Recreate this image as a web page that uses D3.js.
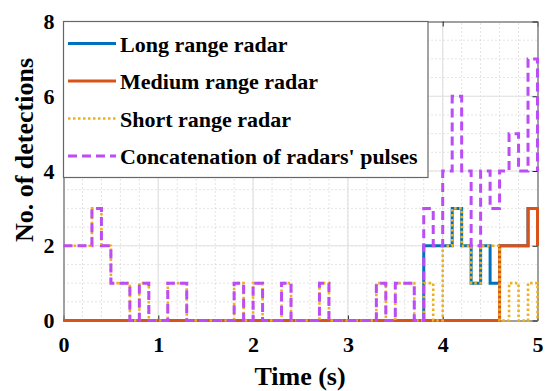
<!DOCTYPE html>
<html>
<head>
<meta charset="utf-8">
<script src="https://cdn.jsdelivr.net/npm/d3@7"></script>
<style>
  body { margin: 0; background: #fff; }
</style>
</head>
<body>
<script>
// sample times (s), one value per 0.1 s, drawn as stairs
const time = [0.0, 0.1, 0.2, 0.3, 0.4, 0.5, 0.6, 0.7, 0.8, 0.9,
              1.0, 1.1, 1.2, 1.3, 1.4, 1.5, 1.6, 1.7, 1.8, 1.9,
              2.0, 2.1, 2.2, 2.3, 2.4, 2.5, 2.6, 2.7, 2.8, 2.9,
              3.0, 3.1, 3.2, 3.3, 3.4, 3.5, 3.6, 3.7, 3.8, 3.9,
              4.0, 4.1, 4.2, 4.3, 4.4, 4.5, 4.6, 4.7, 4.8, 4.9, 5.0];

const longRange = [0, 0, 0, 0, 0, 0, 0, 0, 0, 0,
                   0, 0, 0, 0, 0, 0, 0, 0, 0, 0,
                   0, 0, 0, 0, 0, 0, 0, 0, 0, 0,
                   0, 0, 0, 0, 0, 0, 0, 0, 2, 2,
                   2, 3, 2, 1, 2, 1, 2, 2, 2, 3, 2];

const mediumRange = [0, 0, 0, 0, 0, 0, 0, 0, 0, 0,
                     0, 0, 0, 0, 0, 0, 0, 0, 0, 0,
                     0, 0, 0, 0, 0, 0, 0, 0, 0, 0,
                     0, 0, 0, 0, 0, 0, 0, 0, 0, 0,
                     0, 0, 0, 0, 0, 0, 2, 2, 2, 3, 2];

const shortRange = [2, 2, 2, 3, 2, 1, 1, 0, 1, 0,
                    0, 1, 1, 0, 0, 0, 0, 0, 1, 0,
                    1, 0, 0, 1, 0, 0, 0, 1, 0, 0,
                    0, 0, 0, 1, 0, 1, 1, 0, 1, 0,
                    2, 3, 2, 1, 2, 2, 0, 1, 0, 1, 0];

const concatenated = [2, 2, 2, 3, 2, 1, 1, 0, 1, 0,
                      0, 1, 1, 0, 0, 0, 0, 0, 1, 0,
                      1, 0, 0, 1, 0, 0, 0, 1, 0, 0,
                      0, 0, 0, 1, 0, 1, 1, 0, 3, 2,
                      4, 6, 4, 2, 4, 3, 4, 5, 4, 7, 4];

const seriesNames = ["Long range radar", "Medium range radar",
                     "Short range radar", "Concatenation of radars' pulses"];
const xTicks = [0, 1, 2, 3, 4, 5];
const yTicks = [0, 2, 4, 6, 8];

const series = [
  { name: seriesNames[0], values: longRange,    color: "#0072bd", dash: null,      width: 3 },
  { name: seriesNames[1], values: mediumRange,  color: "#d95319", dash: null,      width: 3 },
  { name: seriesNames[2], values: shortRange,   color: "#edb120", dash: "2.5,2.5", width: 2.6 },
  { name: seriesNames[3], values: concatenated, color: "#bb4cf6", dash: "9,5",     width: 3 }
];

const font = "'Liberation Serif', 'Times New Roman', serif";

const svg = d3.select("body").append("svg")
  .attr("width", 546)
  .attr("height", 391);

const x = d3.scaleLinear().domain([0, 5]).range([63.5, 537.5]);
const y = d3.scaleLinear().domain([0, 8]).range([320.5, 21.5]);

// grid: dotted minor, solid major
const grid = svg.append("g");
grid.selectAll(".minor-x").data(d3.range(0.2, 5, 0.2))
  .enter().append("line")
  .attr("x1", d => x(d)).attr("x2", d => x(d))
  .attr("y1", y(0)).attr("y2", y(8))
  .attr("stroke", "#c8c8c8").attr("stroke-dasharray", "1,3");
grid.selectAll(".minor-y").data(d3.range(0.5, 8, 0.5))
  .enter().append("line")
  .attr("y1", d => y(d)).attr("y2", d => y(d))
  .attr("x1", x(0)).attr("x2", x(5))
  .attr("stroke", "#c8c8c8").attr("stroke-dasharray", "1,3");
grid.selectAll(".major-x").data(xTicks.slice(1, -1))
  .enter().append("line")
  .attr("x1", d => x(d)).attr("x2", d => x(d))
  .attr("y1", y(0)).attr("y2", y(8))
  .attr("stroke", "#e2e2e2").attr("stroke-width", 1.2);
grid.selectAll(".major-y").data(yTicks.slice(1, -1))
  .enter().append("line")
  .attr("y1", d => y(d)).attr("y2", d => y(d))
  .attr("x1", x(0)).attr("x2", x(5))
  .attr("stroke", "#e2e2e2").attr("stroke-width", 1.2);

// box + inward ticks
function styleAxis(g) {
  g.select(".domain").attr("stroke", "#808080").attr("stroke-width", 1.5);
  g.selectAll(".tick line").attr("stroke", "#222");
  g.selectAll("text")
    .attr("font-family", font)
    .attr("font-weight", "bold")
    .attr("font-size", 22)
    .attr("fill", "#000");
}

svg.append("g").attr("transform", `translate(0, ${y(0)})`)
  .call(d3.axisBottom(x).tickValues(xTicks).tickFormat(d3.format("d"))
    .tickSizeInner(-5).tickSizeOuter(0).tickPadding(16))
  .call(styleAxis);
svg.append("g").attr("transform", `translate(0, ${y(8)})`)
  .call(d3.axisTop(x).tickValues(xTicks).tickFormat("")
    .tickSizeInner(-5).tickSizeOuter(0))
  .call(styleAxis);
svg.append("g").attr("transform", `translate(${x(0)}, 0)`)
  .call(d3.axisLeft(y).tickValues(yTicks).tickFormat(d3.format("d"))
    .tickSizeInner(-5).tickSizeOuter(0).tickPadding(9))
  .call(styleAxis);
svg.append("g").attr("transform", `translate(${x(5)}, 0)`)
  .call(d3.axisRight(y).tickValues(yTicks).tickFormat("")
    .tickSizeInner(-5).tickSizeOuter(0))
  .call(styleAxis);

// step lines
const line = d3.line()
  .x((d, i) => x(time[i]))
  .y(d => y(d))
  .curve(d3.curveStepAfter);

svg.selectAll(".series").data(series)
  .enter().append("path")
  .attr("class", "series")
  .attr("d", d => line(d.values))
  .attr("fill", "none")
  .attr("stroke", d => d.color)
  .attr("stroke-width", d => d.width)
  .attr("stroke-dasharray", d => d.dash);

// legend
const legend = svg.append("g");
legend.append("rect")
  .attr("x", x(0)).attr("y", y(8))
  .attr("width", 428 - x(0)).attr("height", 177.5 - y(8))
  .attr("fill", "#fff")
  .attr("stroke", "#666").attr("stroke-width", 1.2);

const item = legend.selectAll(".item").data(series)
  .enter().append("g")
  .attr("transform", (d, i) => `translate(0, ${43.5 + i * 37.5})`);
item.append("line")
  .attr("x1", 68).attr("x2", 116)
  .attr("stroke", d => d.color)
  .attr("stroke-width", d => d.width)
  .attr("stroke-dasharray", d => d.dash);
item.append("text")
  .attr("x", 120).attr("y", 8)
  .attr("font-family", font)
  .attr("font-weight", "bold")
  .attr("font-size", 22)
  .text(d => d.name);

// axis titles
svg.append("text")
  .attr("x", 300).attr("y", 385)
  .attr("text-anchor", "middle")
  .attr("font-family", font).attr("font-weight", "bold").attr("font-size", 26)
  .text("Time (s)");
svg.append("text")
  .attr("transform", "translate(33, 150) rotate(-90)")
  .attr("text-anchor", "middle")
  .attr("font-family", font).attr("font-weight", "bold").attr("font-size", 26)
  .text("No. of detections");
</script>
</body>
</html>
